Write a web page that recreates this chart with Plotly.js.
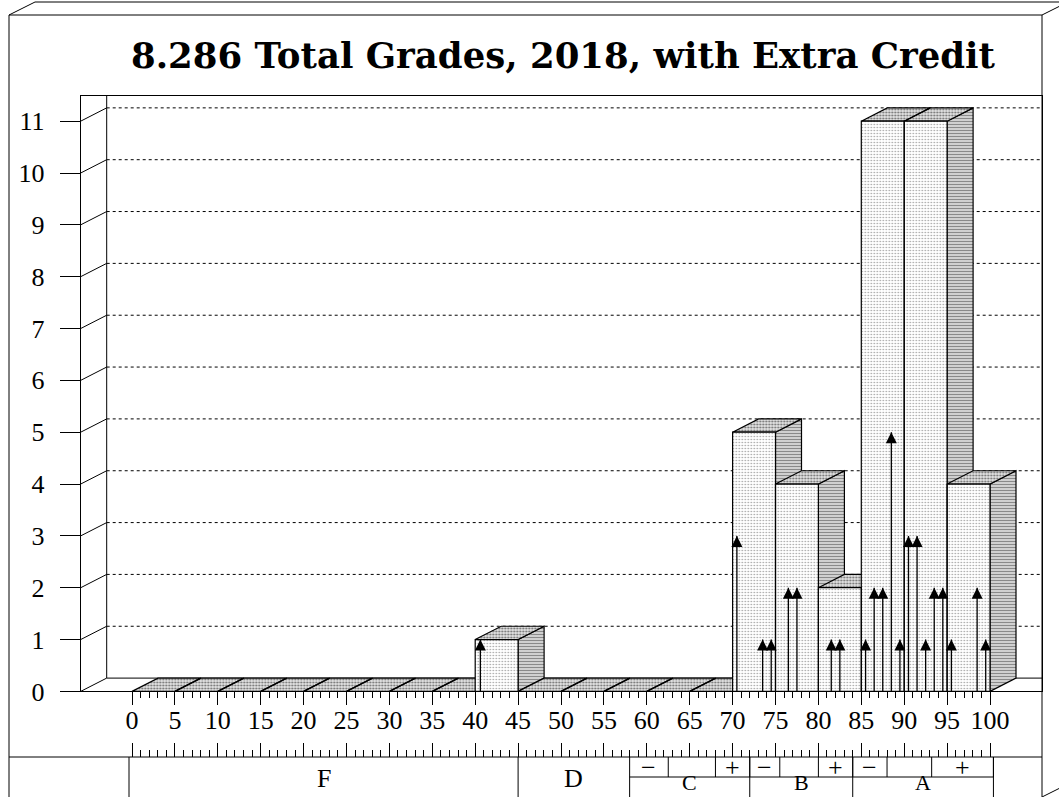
<!DOCTYPE html>
<html><head><meta charset="utf-8">
<script src="https://cdn.plot.ly/plotly-3.0.1.min.js"></script>
<style>html,body{margin:0;padding:0;background:#fff}#chart{width:1059px;height:797px}</style>
</head><body><div id="chart"></div>
<script>
// ---------------- data ----------------
const binStarts = [0,5,10,15,20,25,30,35,40,45,50,55,60,65,70,75,80,85,90,95];
const binCounts = [0,0,0,0,0,0,0,0,1,0,0,0,0,0,5,4,2,11,11,4];
const binWidth = 5;
const scores      = [40.6,70.5,73.5,74.5,76.5,77.5,81.5,82.5,85.5,86.5,87.5,88.5,89.5,90.5,91.5,92.5,93.5,94.5,95.5,98.5,99.5];
const scoreCounts = [1,   3,   1,   1,   2,   2,   1,   1,   1,   2,   2,   5,   1,   3,   3,   1,   2,   2,   1,   2,   1];
const xTickVals = [0,5,10,15,20,25,30,35,40,45,50,55,60,65,70,75,80,85,90,95,100];
const xMinorVals = Array.from({length:101},(_,i)=>i);
const yTickVals = [0,1,2,3,4,5,6,7,8,9,10,11];
const gradeLetters = ['F','D','C','B','A'];
const gradeBounds  = [[-0.35,45],[45,58],[58,72],[72,84],[84,100.4]];
const subLabels = ['\u2212','','+','\u2212','','+','\u2212','','+'];
const subBounds = [[58,62.5],[62.5,68],[68,72],[72,75.5],[75.5,80],[80,84],[84,88],[88,93.2],[93.2,100.4]];
const titleText = '8.286 Total Grades, 2018, with Extra Credit';

// ---------------- geometry (pixel layout) ----------------
const W=1059, H=797;
const X0=132, XS=8.58, Y0=691.4, YS=51.84;
const vx = p => (p - X0) / XS;
const vy = p => (Y0 - p) / YS;
const DX = 26 / XS, DY = 13.3 / YS;
const plotL = 80.7, plotR = 1042, plotT = 96;
const xL = vx(plotL), xR = vx(plotR), yT = vy(plotT);

const traces = [];
const base = {type:'scatter', mode:'lines', hoverinfo:'skip', showlegend:false};

// left wall diagonals from ticks to back wall
(function(){
  const x=[], y=[];
  yTickVals.forEach(v => { x.push(xL, xL+DX, null); y.push(v, v+DY, null); });
  x.push(xL+DX, xL+DX, null); y.push(DY, yT, null);
  x.push(xL+DX, xR); y.push(DY, DY);
  traces.push(Object.assign({}, base, {x, y, line:{color:'#000', width:1}}));
})();
// dashed back-wall grid
(function(){
  const x=[], y=[];
  yTickVals.filter(v=>v>0).forEach(v => { x.push(xL+DX, xR, null); y.push(v+DY, v+DY, null); });
  traces.push(Object.assign({}, base, {x, y, line:{color:'#000', width:1, dash:'3px,3px'}}));
})();

// bars: sides, tops, fronts
const sx=[], sy=[], tx=[], ty=[], fx=[], fy=[];
binStarts.forEach((a,i) => {
  const b = a + binWidth, h = binCounts[i];
  if (h > 0) {
    sx.push(b, b+DX, b+DX, b, b, null); sy.push(0, DY, h+DY, h, 0, null);
    fx.push(a, b, b, a, a, null); fy.push(0, 0, h, h, 0, null);
  }
  tx.push(a, b, b+DX, a+DX, a, null); ty.push(h, h, h+DY, h+DY, h, null);
});
traces.push(Object.assign({}, base, {x:sx, y:sy, fill:'toself', fillcolor:'#d4d4d4',
  fillpattern:{shape:'-', bgcolor:'#d8d8d8', fgcolor:'#8a8a8a', size:3, solidity:0.4},
  line:{color:'#000', width:1.2}}));
traces.push(Object.assign({}, base, {x:tx, y:ty, fill:'toself', fillcolor:'#d0d0d0',
  fillpattern:{shape:'.', bgcolor:'#e6e6e6', fgcolor:'#6a6a6a', size:3, solidity:0.35},
  line:{color:'#000', width:1.2}}));
traces.push(Object.assign({}, base, {x:fx, y:fy, fill:'toself', fillcolor:'#f0f0f0',
  fillpattern:{shape:'.', bgcolor:'#ffffff', fgcolor:'#9a9a9a', size:3, solidity:0.2},
  line:{color:'#000', width:1.2}}));

// arrows
(function(){
  const x=[], y=[];
  scores.forEach((s,i) => { x.push(s, s, null); y.push(0, scoreCounts[i], null); });
  traces.push(Object.assign({}, base, {x, y, line:{color:'#000', width:1.3}}));
  traces.push({type:'scatter', mode:'markers', x:scores, y:scoreCounts, hoverinfo:'skip', showlegend:false,
    marker:{symbol:'arrow-up', size:11, color:'#000', line:{width:0}}});
})();

// dummy trace for the secondary tick axis
traces.push({type:'scatter', mode:'markers', x:[0], y:[0], xaxis:'x3', yaxis:'y',
  marker:{opacity:0}, hoverinfo:'skip', showlegend:false});

// frame + table on full-figure subplot
(function(){
  const x=[], y=[];
  const seg = (x1,y1,x2,y2) => { x.push(vx(x1), vx(x2), null); y.push(vy(y1), vy(y2), null); };
  seg(9,15,9,800); seg(9,15,1042,15); seg(1042,15,1042,800);
  seg(9,15,35,2); seg(35,2,1070,2); seg(1042,15,1068,2); seg(1042,797,1068,784);
  seg(9,757,1042,757);
  const yTop = vy(757), yMid = vy(777), yBot = vy(800);
  const vseg = (v, y1, y2) => { x.push(v, v, null); y.push(y1, y2, null); };
  vseg(gradeBounds[0][0], yTop, yBot);
  gradeBounds.forEach(b => vseg(b[1], yTop, yBot));
  subBounds.forEach(b => vseg(b[1], yTop, yMid));
  x.push(subBounds[0][0], subBounds[subBounds.length-1][1], null); y.push(yMid, yMid, null);
  traces.push(Object.assign({}, base, {x, y, xaxis:'x2', yaxis:'y2', line:{color:'#000', width:1}}));
})();

const annotations = [];
const tfont = {family:'Liberation Serif, serif', size:26, color:'#000'};
const lowFont = {family:'Liberation Serif, serif', size:22, color:'#000'};
gradeLetters.forEach((g,i) => {
  const b = gradeBounds[i];
  const big = i < 2;
  annotations.push({xref:'x2', yref:'y2', x:(b[0]+b[1])/2, y: big ? vy(778) : vy(782),
    text:g, showarrow:false, font: big ? tfont : lowFont, xanchor:'center', yanchor:'middle', borderpad:0});
});
subLabels.forEach((s,i) => {
  if (!s) return;
  const b = subBounds[i];
  annotations.push({xref:'x2', yref:'y2', x:(b[0]+b[1])/2, y:vy(767.5),
    text:s, showarrow:false, font:tfont, xanchor:'center', yanchor:'middle'});
});

const layout = {
  width:W, height:H, margin:{l:0,r:0,t:0,b:0},
  paper_bgcolor:'#fff', plot_bgcolor:'rgba(0,0,0,0)', showlegend:false,
  title:{text:'<b>'+titleText+'</b>', font:{family:'DejaVu Serif, serif', size:35.5, color:'#000'},
    x:563/W, xanchor:'center', y:1-56/H, yanchor:'middle', xref:'paper', yref:'container'},
  xaxis:{domain:[plotL/W, plotR/W], range:[xL, xR], anchor:'y',
    tickmode:'array', tickvals:xTickVals, ticks:'outside', ticklen:13, tickwidth:1, tickcolor:'#000',
    minor:{tickmode:'array', tickvals:xMinorVals, ticks:'outside', ticklen:6, tickwidth:1, tickcolor:'#000', showgrid:false},
    showline:true, linecolor:'#000', linewidth:1, mirror:true, showgrid:false, zeroline:false,
    tickfont:tfont, ticklabelstandoff:-8, fixedrange:true},
  yaxis:{domain:[(H-Y0)/H, (H-plotT)/H], range:[0, yT], anchor:'x',
    tickmode:'array', tickvals:yTickVals, ticks:'outside', ticklen:20, tickwidth:1, tickcolor:'#000',
    showline:true, linecolor:'#000', linewidth:1, mirror:true, showgrid:false, zeroline:false,
    tickfont:tfont, ticklabelstandoff:10, fixedrange:true},
  xaxis3:{overlaying:'x', anchor:'free', position:(H-757)/H, side:'top', range:[xL, xR],
    tickmode:'array', tickvals:xTickVals, ticks:'outside', ticklen:14, tickwidth:1, tickcolor:'#000',
    minor:{tickmode:'array', tickvals:xMinorVals, ticks:'outside', ticklen:7, tickwidth:1, tickcolor:'#000', showgrid:false},
    showticklabels:false, showline:false, showgrid:false, zeroline:false, fixedrange:true},
  xaxis2:{domain:[0,1], range:[vx(0), vx(W)], anchor:'y2', visible:false, fixedrange:true},
  yaxis2:{domain:[0,1], range:[vy(H), vy(0)], anchor:'x2', visible:false, fixedrange:true},
  annotations
};

Plotly.newPlot('chart', traces, layout, {displayModeBar:false, staticPlot:true});
</script>
</body></html>
